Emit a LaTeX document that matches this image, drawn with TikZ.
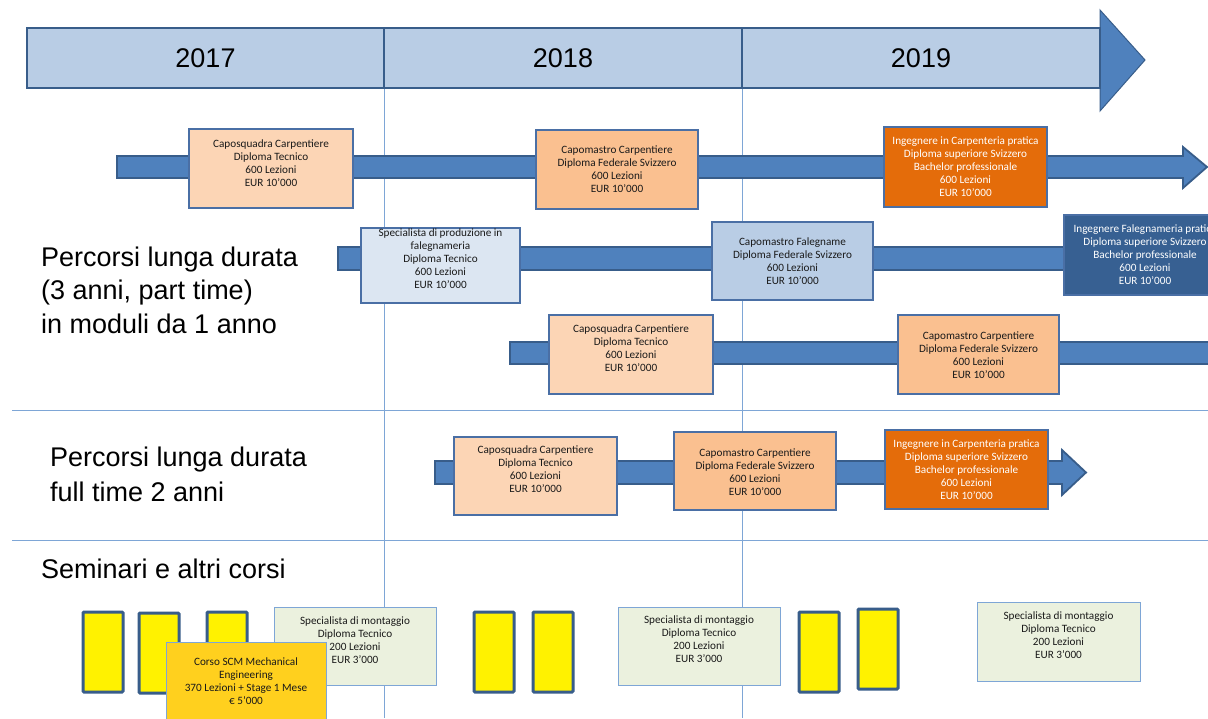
\documentclass[tikz,border=0pt]{standalone}
\usepackage{fontspec}
\setmainfont{Liberation Sans}
\newfontfamily\boxfont{Carlito}
\definecolor{barfill}{HTML}{B9CDE5}
\definecolor{darkline}{HTML}{385D8A}
\definecolor{arrfill}{HTML}{4F81BD}
\definecolor{thinline}{HTML}{7EA6D6}
\definecolor{boxline}{HTML}{4A6FA5}
\definecolor{pchA}{HTML}{FCD5B5}
\definecolor{pchB}{HTML}{FAC090}
\definecolor{orng}{HTML}{E46C0A}
\definecolor{blA}{HTML}{DCE6F2}
\definecolor{blB}{HTML}{B9CDE5}
\definecolor{blC}{HTML}{376092}
\definecolor{grn}{HTML}{EBF1DE}
\definecolor{gold}{RGB}{255,208,30}
\definecolor{txt}{HTML}{1A1A1A}
\tikzset{
  bx/.style={draw=boxline, line width=1.2pt, inner sep=0pt},
  bt/.style={font=\boxfont\fontsize{11.2}{13}\selectfont, align=center, inner sep=0pt},
  lbl/.style={font=\fontsize{27}{34}\selectfont, anchor=base west, inner sep=0pt, text=black},
  year/.style={font=\fontsize{27}{30}\selectfont, inner sep=0pt, text=black},
  arr/.style={fill=arrfill, draw=darkline, line width=1.8pt, line join=miter},
  ybox/.style={draw=darkline, line width=3pt, fill=yellow, inner sep=0pt, rounded corners=1pt},
  thin/.style={draw=thinline, line width=0.9pt},
}
% name, x1, y1, x2, y2, fill, textcolor, text-center-y, text
\newcommand\course[9]{%
  \node[bx, fill=#6, minimum width={(#4-#2)*1pt}, minimum height={(#5-#3)*1pt}] (#1) at ({(#2+#4)/2},{(#3+#5)/2}) {};
  \node[bt, text=#7] (#1t) at ({(#2+#4)/2},#8) {#9};
}
\newcommand\ybar[5]{%
  \node[ybox, minimum width={(#4-#2)*1pt}, minimum height={(#5-#3)*1pt}] (#1) at ({(#2+#4)/2},{(#3+#5)/2}) {};
}
\begin{document}
\begin{tikzpicture}[x=1pt,y=-1pt]
\useasboundingbox (0,0) rectangle (1208,718);
\clip (0,0) rectangle (1208,718);
\fill[white] (0,0) rectangle (1208,718);

% thin guide lines
\coordinate (va1) at (384,88);  \coordinate (va2) at (384,718);
\coordinate (vb1) at (742,88);  \coordinate (vb2) at (742,718);
\coordinate (ha1) at (12,410);  \coordinate (ha2) at (1208,410);
\coordinate (hb1) at (12,540);  \coordinate (hb2) at (1208,540);
\draw[thin] (va1) -- (va2);
\draw[thin] (vb1) -- (vb2);
\draw[thin] (ha1) -- (ha2);
\draw[thin] (hb1) -- (hb2);

% top timeline
\draw[fill=arrfill, draw=darkline, line width=1pt, line join=miter]
  (1100,10) -- (1145,60) -- (1100,111) -- cycle;
\draw[fill=barfill, draw=darkline, line width=2.5pt] (27,28) rectangle (1100,88);
\draw[draw=darkline, line width=1.8pt] (384,28) -- (384,88);
\draw[draw=darkline, line width=1.8pt] (742,28) -- (742,88);
\node[year] (y17) at (205.5,58) {2017};
\node[year] (y18) at (563,58) {2018};
\node[year] (y19) at (921,58) {2019};

% row arrows
\draw[arr] (117,156) -- (1183,156) -- (1183,147) -- (1207,167) -- (1183,188) -- (1183,178) -- (117,178) -- cycle;
\draw[arr] (338,247) rectangle (1220,270);
\draw[arr] (510,342) rectangle (1220,364);
\draw[arr] (435,461) -- (1062,461) -- (1062,450) -- (1086,472.5) -- (1062,495) -- (1062,484) -- (435,484) -- cycle;

% row 1
\course{b1}{189}{129}{353}{208}{pchA}{txt}{163}{Caposquadra Carpentiere\\Diploma Tecnico\\600 Lezioni\\EUR 10’000}
\course{b2}{536}{130}{698}{209}{pchB}{txt}{169.5}{Capomastro Carpentiere\\Diploma Federale Svizzero\\600 Lezioni\\EUR 10’000}
\course{b3}{884}{127}{1047}{207}{orng}{white}{167}{Ingegnere in Carpenteria pratica\\Diploma superiore Svizzero\\Bachelor professionale\\600 Lezioni\\EUR 10’000}

% row 2
\course{b4}{361}{228}{520}{303}{blA}{txt}{259}{Specialista di produzione in\\falegnameria\\Diploma Tecnico\\600 Lezioni\\EUR 10’000}
\course{b5}{712}{222}{873}{300}{blB}{txt}{261.5}{Capomastro Falegname\\Diploma Federale Svizzero\\600 Lezioni\\EUR 10’000}
\course{b6}{1064}{215}{1226}{295}{blC}{white}{255}{Ingegnere Falegnameria pratica\\Diploma superiore Svizzero\\Bachelor professionale\\600 Lezioni\\EUR 10’000}

% row 3
\course{b7}{549}{315}{713}{394}{pchA}{txt}{348.5}{Caposquadra Carpentiere\\Diploma Tecnico\\600 Lezioni\\EUR 10’000}
\course{b8}{898}{315}{1059}{394}{pchB}{txt}{355}{Capomastro Carpentiere\\Diploma Federale Svizzero\\600 Lezioni\\EUR 10’000}

% row 4
\course{b9}{454}{437}{617}{515}{pchA}{txt}{469.5}{Caposquadra Carpentiere\\Diploma Tecnico\\600 Lezioni\\EUR 10’000}
\course{b10}{674}{432}{836}{510}{pchB}{txt}{472}{Capomastro Carpentiere\\Diploma Federale Svizzero\\600 Lezioni\\EUR 10’000}
\course{b11}{885}{430}{1048}{509}{orng}{white}{470}{Ingegnere in Carpenteria pratica\\Diploma superiore Svizzero\\Bachelor professionale\\600 Lezioni\\EUR 10’000}

% left labels
\node[lbl] (l1a) at (41,266) {Percorsi lunga durata};
\node[lbl] (l1b) at (41,299) {(3 anni, part time)};
\node[lbl] (l1c) at (41,333) {in moduli da 1 anno};
\node[lbl] (l2a) at (50,466) {Percorsi lunga durata};
\node[lbl] (l2b) at (50,501) {full time 2 anni};
\node[lbl] (l3) at (41,578) {Seminari e altri corsi};

% seminars
\ybar{y1}{83}{612}{123}{692}
\ybar{y2}{139}{613}{179}{693}
\ybar{y3}{207}{612}{247}{692}
\ybar{y4}{474}{612}{514}{692}
\ybar{y5}{533}{612}{573}{692}
\ybar{y6}{799}{612}{839}{692}
\ybar{y7}{858}{609}{898}{689}
\tikzset{bx/.append style={draw=thinline, line width=1pt}}
\course{s1}{274}{607}{436}{685}{grn}{txt}{640}{Specialista di montaggio\\Diploma Tecnico\\200 Lezioni\\EUR 3’000}
\course{s2}{618}{607}{780}{685}{grn}{txt}{639.5}{Specialista di montaggio\\Diploma Tecnico\\200 Lezioni\\EUR 3’000}
\course{s3}{977}{602}{1140}{681}{grn}{txt}{635.5}{Specialista di montaggio\\Diploma Tecnico\\200 Lezioni\\EUR 3’000}
\course{scm}{166}{642}{326}{740}{gold}{txt}{681.5}{Corso SCM Mechanical\\Engineering\\370 Lezioni + Stage 1 Mese\\€ 5’000}
\end{tikzpicture}
\end{document}
